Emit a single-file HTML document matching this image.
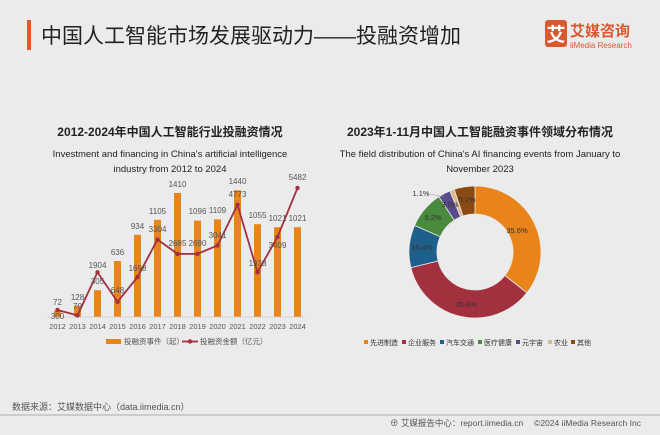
<!DOCTYPE html>
<html><head><meta charset="utf-8"><style>
body{margin:0;width:660px;height:430px;background:#ebebeb;overflow:hidden;font-family:"Liberation Sans","Noto Sans CJK SC",sans-serif}
</style></head><body>
<svg width="660" height="430" xmlns="http://www.w3.org/2000/svg" font-family="Liberation Sans, Noto Sans CJK SC, sans-serif">
<rect x="0" y="0" width="660" height="430" fill="#ebebeb"/>
<rect x="27" y="20" width="4" height="30" fill="#e2572b"/>
<text x="41" y="43" font-size="21" fill="#222">中国人工智能市场发展驱动力——投融资增加</text>
<rect x="545" y="20" width="22" height="27" rx="3" fill="#d9582f"/>
<text x="556" y="41" font-size="19" fill="#fff" text-anchor="middle" font-weight="bold">艾</text>
<text x="570" y="36" font-size="15" fill="#d9582f" font-weight="bold">艾媒咨询</text>
<text x="570" y="48" font-size="8" fill="#d9582f">iiMedia Research</text>

<text x="170" y="136" font-size="12" font-weight="bold" text-anchor="middle" fill="#222">2012-2024年中国人工智能行业投融资情况</text>
<text x="170" y="157" font-size="9.5" text-anchor="middle" fill="#222">Investment and financing in China's artificial intelligence</text>
<text x="170" y="172" font-size="9.5" text-anchor="middle" fill="#222">industry from 2012 to 2024</text>

<text x="480" y="136" font-size="12" font-weight="bold" text-anchor="middle" fill="#222">2023年1-11月中国人工智能融资事件领域分布情况</text>
<text x="480" y="157" font-size="9.5" text-anchor="middle" fill="#222">The field distribution of China's AI financing events from January to</text>
<text x="480" y="172" font-size="9.5" text-anchor="middle" fill="#222">November 2023</text>

<g id="bars" fill="#e8841a">
<rect x="54" y="310.7" width="7" height="6.3"/>
<rect x="74" y="305.7" width="7" height="11.3"/>
<rect x="94" y="290.2" width="7" height="26.8"/>
<rect x="114" y="261" width="7" height="56"/>
<rect x="134" y="234.8" width="7" height="82.2"/>
<rect x="154" y="219.8" width="7" height="97.2"/>
<rect x="174" y="193" width="7" height="124"/>
<rect x="194" y="220.6" width="7" height="96.4"/>
<rect x="214" y="219.4" width="7" height="97.6"/>
<rect x="234" y="190.3" width="7" height="126.7"/>
<rect x="254" y="224.2" width="7" height="92.8"/>
<rect x="274" y="227.2" width="7" height="89.8"/>
<rect x="294" y="227.2" width="7" height="89.8"/>
</g>
<line x1="47" y1="317" x2="305" y2="317" stroke="#ccc" stroke-width="0.7"/>
<polyline fill="none" stroke="#a3303e" stroke-width="1.8" points="57.5,310 77.5,315.4 97.5,272.3 117.5,301.8 137.5,277.1 157.5,239.6 177.5,253.9 197.5,253.8 217.5,245.5 237.5,204.8 257.5,272.2 277.5,237 297.5,188"/>
<g fill="#a3303e">
<circle cx="57.5" cy="310" r="2.2"/><circle cx="77.5" cy="315.4" r="2.2"/><circle cx="97.5" cy="272.3" r="2.2"/><circle cx="117.5" cy="301.8" r="2.2"/><circle cx="137.5" cy="277.1" r="2.2"/><circle cx="157.5" cy="239.6" r="2.2"/><circle cx="177.5" cy="253.9" r="2.2"/><circle cx="197.5" cy="253.8" r="2.2"/><circle cx="217.5" cy="245.5" r="2.2"/><circle cx="237.5" cy="204.8" r="2.2"/><circle cx="257.5" cy="272.2" r="2.2"/><circle cx="277.5" cy="237" r="2.2"/><circle cx="297.5" cy="188" r="2.2"/>
</g>
<g font-size="8" fill="#555" text-anchor="middle">
<text x="57.5" y="305">72</text><text x="77.5" y="300">128</text><text x="97.5" y="268">1904</text><text x="117.5" y="255">636</text><text x="137.5" y="229">934</text><text x="157.5" y="214">1105</text><text x="177.5" y="187">1410</text><text x="197.5" y="214">1096</text><text x="217.5" y="213">1109</text><text x="237.5" y="184">1440</text><text x="257.5" y="218">1055</text><text x="277.5" y="221">1021</text><text x="297.5" y="221">1021</text>
<text x="57.5" y="319">300</text><text x="77.5" y="309">70</text><text x="97.5" y="284">305</text><text x="117.5" y="293">648</text><text x="137.5" y="271">1698</text><text x="157.5" y="232">3304</text><text x="177.5" y="246">2685</text><text x="197.5" y="246">2690</text><text x="217.5" y="238">3041</text><text x="237.5" y="197">4773</text><text x="257.5" y="266">1933</text><text x="277.5" y="248">3409</text><text x="297.5" y="180">5482</text>
</g>
<g font-size="7.5" fill="#555" text-anchor="middle">
<text x="57.5" y="329">2012</text><text x="77.5" y="329">2013</text><text x="97.5" y="329">2014</text><text x="117.5" y="329">2015</text><text x="137.5" y="329">2016</text><text x="157.5" y="329">2017</text><text x="177.5" y="329">2018</text><text x="197.5" y="329">2019</text><text x="217.5" y="329">2020</text><text x="237.5" y="329">2021</text><text x="257.5" y="329">2022</text><text x="277.5" y="329">2023</text><text x="297.5" y="329">2024</text>
</g>
<rect x="106" y="339" width="15" height="5" fill="#e8841a"/>
<text x="124" y="344" font-size="7.5" fill="#555">投融资事件（起）</text>
<line x1="182" y1="341.5" x2="198" y2="341.5" stroke="#a3303e" stroke-width="1.8"/><circle cx="190" cy="341.5" r="2.2" fill="#a3303e"/>
<text x="200" y="344" font-size="7.5" fill="#555">投融资金额（亿元）</text>

<g id="donut" transform="translate(475,252)"></g>
<g font-size="7.5" fill="#333" text-anchor="middle">
<text x="517" y="233">35.6%</text><text x="466" y="307">35.6%</text><text x="422" y="250">10.4%</text><text x="433" y="220">9.2%</text><text x="450" y="207">3.0%</text><text x="467" y="202">5.1%</text><text x="421" y="196">1.1%</text>
</g>
<line x1="430" y1="194" x2="444" y2="197" stroke="#999" stroke-width="0.5"/>
<g font-size="7" fill="#333">
<rect x="364" y="340" width="4" height="4" fill="#e8841a"/><text x="370" y="345">先进制造</text>
<rect x="402" y="340" width="4" height="4" fill="#a3303e"/><text x="408" y="345">企业服务</text>
<rect x="440" y="340" width="4" height="4" fill="#1f5f8b"/><text x="446" y="345">汽车交通</text>
<rect x="478" y="340" width="4" height="4" fill="#4a8a3e"/><text x="484" y="345">医疗健康</text>
<rect x="516" y="340" width="4" height="4" fill="#5a4a8a"/><text x="522" y="345">元宇宙</text>
<rect x="548" y="340" width="4" height="4" fill="#d9b88a"/><text x="554" y="345">农业</text>
<rect x="571" y="340" width="4" height="4" fill="#8a4a14"/><text x="577" y="345">其他</text>
</g>

<text x="12" y="410" font-size="9" fill="#555">数据来源：艾媒数据中心（data.iimedia.cn）</text>
<line x1="0" y1="415" x2="660" y2="415" stroke="#999" stroke-width="0.8"/>
<text x="390" y="426" font-size="8.5" fill="#555">⊕ 艾媒报告中心：report.iimedia.cn　 ©2024 iiMedia Research Inc</text>
</svg>
<script>
var d=[[35.6,"#e8841a"],[35.6,"#a3303e"],[10.4,"#1f5f8b"],[9.2,"#4a8a3e"],[3.0,"#5a4a8a"],[1.1,"#d9b88a"],[5.1,"#8a4a14"]];
var g=document.getElementById("donut"),a=0,R=66,r=38,s="";
d.forEach(function(x){var a1=a*Math.PI/50,a2=(a+x[0])*Math.PI/50;a+=x[0];
function p(rr,t){return (rr*Math.sin(t)).toFixed(2)+","+(-rr*Math.cos(t)).toFixed(2);}
var l=x[0]>50?1:0;
s+='<path d="M'+p(R,a1)+'A'+R+','+R+' 0 '+l+' 1 '+p(R,a2)+'L'+p(r,a2)+'A'+r+','+r+' 0 '+l+' 0 '+p(r,a1)+'Z" fill="'+x[1]+'" stroke="#ebebeb" stroke-width="0.8"/>';});
g.innerHTML=s;
</script>
</body></html>
